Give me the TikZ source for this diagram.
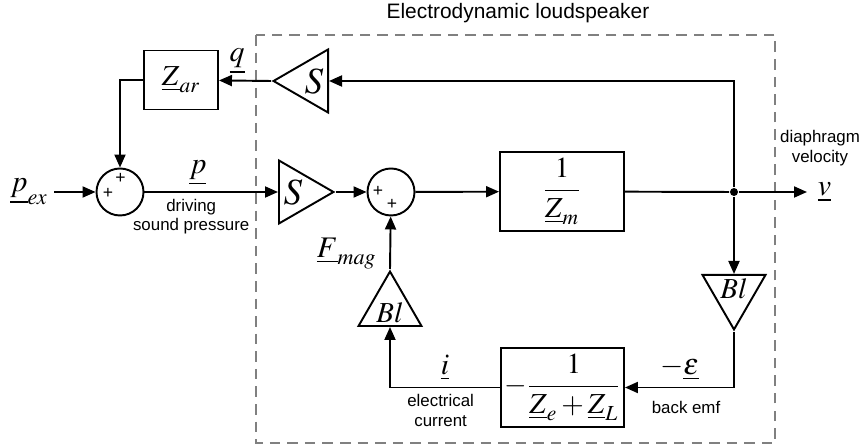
\documentclass[tikz,border=0pt]{standalone}
\usepackage{amsmath}
\usepackage{mathptmx}
\usepackage[no-math]{fontspec}
\setmainfont{Liberation Sans}
\usepackage{tikz}
\usetikzlibrary{arrows.meta, positioning, shapes.geometric}
\definecolor{FrameGray}{HTML}{808080}
\begin{document}
\begin{tikzpicture}[
    line width=1.1pt,
    block/.style={draw, minimum width=1.48cm, minimum height=1.18cm,
      inner sep=2pt, font=\fontsize{16.5}{19}\selectfont},
    sumnode/.style={draw, circle, minimum size=0.94cm, inner sep=0pt},
    gain/.style={draw, isosceles triangle, isosceles triangle stretches,
      inner sep=0pt, minimum width=1.26cm, minimum height=1.09cm,
      anchor=lower side, font=\fontsize{16.5}{19}\selectfont},
    sign/.style={inner sep=0pt, font=\fontsize{10}{11}\selectfont},
    dot/.style={circle, fill, inner sep=0pt, minimum size=1.6mm},
    lbl/.style={font=\fontsize{9.6}{11.3}\selectfont, align=center},
    mlbl/.style={font=\fontsize{17}{19}\selectfont},
    frame/.style={draw=FrameGray, line width=0.9pt, dash pattern=on 6pt off 4pt},
    arr/.style={-{Triangle[length=2.6mm, width=2.2mm]}}
  ]
  \useasboundingbox (0,0) rectangle (17.34,-8.96);
  % loudspeaker frame
  \draw[frame] (5.12,-0.70) rectangle (15.50,-8.86);
  \node[font=\fontsize{11.9}{14}\selectfont] (title) at (10.36,-0.26) {Electrodynamic loudspeaker};

  % forward path
  \node[mlbl] (pex) at (0.58,-3.84) {$\underline{p}_{ex}$};
  \node[sumnode] (sum1) at (2.40,-3.84) {};
  \node[sign] (sum1t) at (2.41,-3.57) {+};
  \node[sign] (sum1l) at (2.16,-3.87) {+};
  \node[gain] (lowS) at (5.56,-3.84) {\fontsize{21}{24}\selectfont$S$};
  \node[sumnode] (sum2) at (7.82,-3.84) {};
  \node[sign] (sum2l) at (7.56,-3.83) {+};
  \node[sign] (sum2b) at (7.84,-4.09) {+};
  \node[block, minimum width=2.48cm, minimum height=1.58cm] (zm) at (11.24,-3.83)
    {$\dfrac{1}{\underline{Z}_m}$};
  \node[dot] (junc) at (14.68,-3.84) {};
  \coordinate (vout) at (16.14,-3.84);
  \node[mlbl, right=0.08cm of vout] (v) {$\underline{v}$};
  \node[lbl] (vtxt) at (16.40,-2.96) {diaphragm\\velocity};

  % acoustic feedback
  \node[gain, shape border rotate=180] (topS) at (6.58,-1.62) {\fontsize{21}{24}\selectfont$S$};
  \node[block] (zar) at (3.62,-1.60) {$\underline{Z}_{ar}$};

  % electrical loop
  \node[gain, shape border rotate=270] (rBl) at (14.68,-5.48) {$Bl$};
  \node[block, minimum width=2.46cm, minimum height=1.58cm] (zel) at (11.25,-7.75)
    {$-\dfrac{1}{\underline{Z}_e+\underline{Z}_L}$};
  \node[gain, shape border rotate=90] (lBl) at (7.80,-6.54) {$Bl$};

  \draw[arr] (pex) -- (sum1);
  \draw[arr] (sum1) -- node[mlbl, above, pos=0.4]{$\underline{p}$}
    node[lbl, below, pos=0.35]{driving\\sound pressure} (lowS.lower side);
  \draw[arr] (lowS.apex) -- (sum2);
  \draw[arr] (sum2) -- (zm);
  \draw (zm) -- (junc);
  \draw[arr] (junc) -- (vout);
  \draw[arr] (junc) |- (topS.lower side);
  \draw[arr] (topS.apex) -- node[mlbl, above, pos=0.65]{$\underline{q}$} (zar);
  \draw[arr] (zar.west) -| (sum1.north);
  \draw[arr] (junc) -- (rBl.lower side);
  \draw[arr] (rBl.apex) |- node[mlbl, above, pos=0.75]{$-\underline{\varepsilon}$}
    node[lbl, below=4pt, pos=0.72]{back emf} (zel);
  \draw[arr] (zel) -| node[mlbl, above, pos=0.25]{$\underline{i}$}
    node[lbl, below, pos=0.27]{electrical\\current} (lBl.lower side);
  \draw[arr] (lBl.apex) -- node[mlbl, left=4pt, pos=0.3]{$\underline{F}_{mag}$} (sum2);
\end{tikzpicture}
\end{document}
